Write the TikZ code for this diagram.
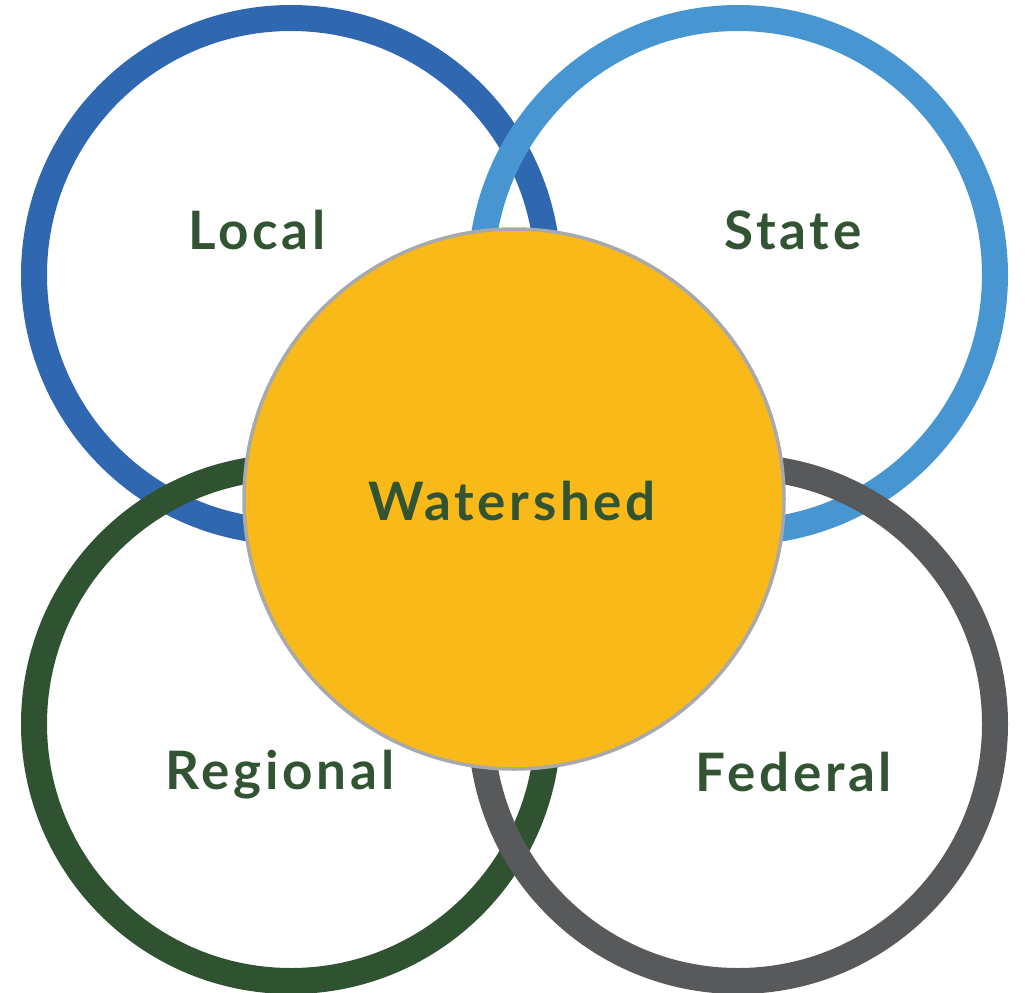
\documentclass[tikz,border=0pt]{standalone}
\usepackage{fontspec}
\setmainfont{Lato}
\newfontfamily\labelfont[LetterSpace=7]{Lato}
\definecolor{localblue}{HTML}{2F67B1}
\definecolor{stateblue}{HTML}{4796D1}
\definecolor{regiongreen}{HTML}{2F5231}
\definecolor{fedgray}{HTML}{58595B}
\definecolor{shedyellow}{HTML}{F9B919}
\definecolor{rimgray}{HTML}{A7A9AC}
\definecolor{labelgreen}{HTML}{325433}
\begin{document}
\begin{tikzpicture}[x=1pt,y=-1pt,
  ring/.style={circle,minimum size=514pt,line width=26pt,inner sep=0pt},
  lbl/.style={text=labelgreen,font=\labelfont\bfseries\fontsize{53}{63}\selectfont,inner sep=0pt}]
\useasboundingbox[fill=white] (0,0) rectangle (1026,993);
% four outer rings
\node[ring,draw=localblue] (local) at (291,275) {};
\node[ring,draw=stateblue] (state) at (738,275) {};
\node[ring,draw=regiongreen] (regional) at (291,724) {};
\node[ring,draw=fedgray] (federal) at (738,724) {};
% central disc
\node[circle,minimum size=540pt,inner sep=0pt,fill=shedyellow,draw=rimgray,line width=3.5pt] (shed) at (514,499) {};
% labels
\node[lbl] (tlocal) at (257,230) {Local};
\node[lbl] (tstate) at (793,230) {State};
\node[lbl] (tregional) at (280,775) {Regional};
\node[lbl] (tfederal) at (794,772) {Federal};
\node[lbl] (tshed) at (512,501) {Watershed};
\end{tikzpicture}
\end{document}
